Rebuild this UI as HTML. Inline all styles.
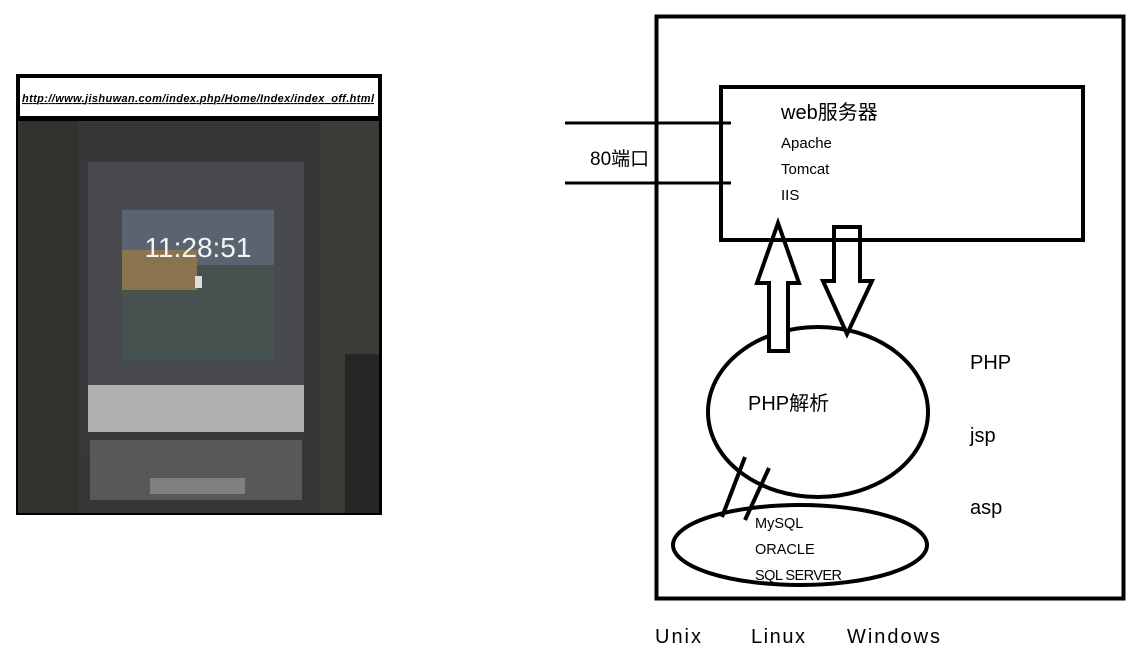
<!DOCTYPE html>
<html><head><meta charset="utf-8"><style>
html,body{margin:0;padding:0;background:#fff;width:1136px;height:660px;overflow:hidden}
svg{display:block}
text{font-family:"Liberation Sans","Noto Sans CJK SC",sans-serif;fill:#000}
</style></head><body>
<svg width="1136" height="660" viewBox="0 0 1136 660">
<!-- left screenshot -->
<rect x="16" y="74" width="366" height="441" fill="#000"/>
<rect x="20" y="78" width="358" height="38" fill="#fff"/>
<text x="22" y="102" font-size="11" font-weight="bold" font-style="italic" text-decoration="underline" textLength="352">http://www.jishuwan.com/index.php/Home/Index/index_off.html</text>
<rect x="18" y="121" width="361" height="392" fill="#383735"/>
<rect x="18" y="121" width="60" height="392" fill="#32312e"/>
<rect x="320" y="121" width="59" height="392" fill="#3d3c39"/>
<rect x="345" y="354" width="34" height="159" fill="#262626"/>
<rect x="80" y="155" width="222" height="300" fill="#37383a"/>
<rect x="88" y="162" width="216" height="270" fill="#484a4d"/>
<rect x="88" y="385" width="216" height="47" fill="#b0b0ae"/>
<rect x="122" y="210" width="152" height="151" fill="#5a6470"/>
<rect x="122" y="265" width="152" height="96" fill="#46524f"/>
<rect x="122" y="250" width="75" height="40" fill="#8a7450"/>
<text x="198" y="257" font-size="28" text-anchor="middle" style="fill:#f4f4f4">11:28:51</text>
<rect x="195" y="276" width="7" height="12" fill="#ddd"/>
<rect x="90" y="440" width="212" height="60" fill="#585857"/>
<rect x="150" y="478" width="95" height="16" fill="#808080"/>
<!-- right diagram -->
<rect x="656.5" y="16.5" width="467" height="582" fill="none" stroke="#000" stroke-width="4"/>
<line x1="565" y1="123" x2="731" y2="123" stroke="#000" stroke-width="3"/>
<line x1="565" y1="183" x2="731" y2="183" stroke="#000" stroke-width="3"/>
<text x="590" y="165" font-size="19">80端口</text>
<text x="781" y="119" font-size="20">web服务器</text>
<text x="781" y="148" font-size="15">Apache</text>
<text x="781" y="174" font-size="15">Tomcat</text>
<text x="781" y="200" font-size="15">IIS</text>
<ellipse cx="818" cy="412" rx="110" ry="85" fill="#fff" stroke="#000" stroke-width="4"/>
<polygon points="769,351 788,351 788,283 799,283 778,223 757,283 769,283" fill="#fff" stroke="#000" stroke-width="4"/>
<polygon points="834,227 860,227 860,281 872,281 847,334 823,281 834,281" fill="#fff" stroke="#000" stroke-width="4"/>
<rect x="721" y="87" width="362" height="153" fill="none" stroke="#000" stroke-width="4"/>
<text x="748" y="410" font-size="20">PHP解析</text>
<ellipse cx="800" cy="545" rx="127" ry="40" fill="#fff" stroke="#000" stroke-width="4"/>
<line x1="745" y1="457" x2="722" y2="517" stroke="#000" stroke-width="4"/>
<line x1="769" y1="468" x2="745" y2="520" stroke="#000" stroke-width="4"/>
<text x="755" y="528" font-size="14.5">MySQL</text>
<text x="755" y="554" font-size="14.5">ORACLE</text>
<text x="755" y="580" font-size="14.5" textLength="87">SQL SERVER</text>
<text x="970" y="369" font-size="20">PHP</text>
<text x="970" y="442" font-size="20">jsp</text>
<text x="970" y="514" font-size="20">asp</text>
<text x="655" y="643" font-size="20" textLength="46">Unix</text>
<text x="751" y="643" font-size="20" textLength="54">Linux</text>
<text x="847" y="643" font-size="20" textLength="93">Windows</text>
</svg>
</body></html>
